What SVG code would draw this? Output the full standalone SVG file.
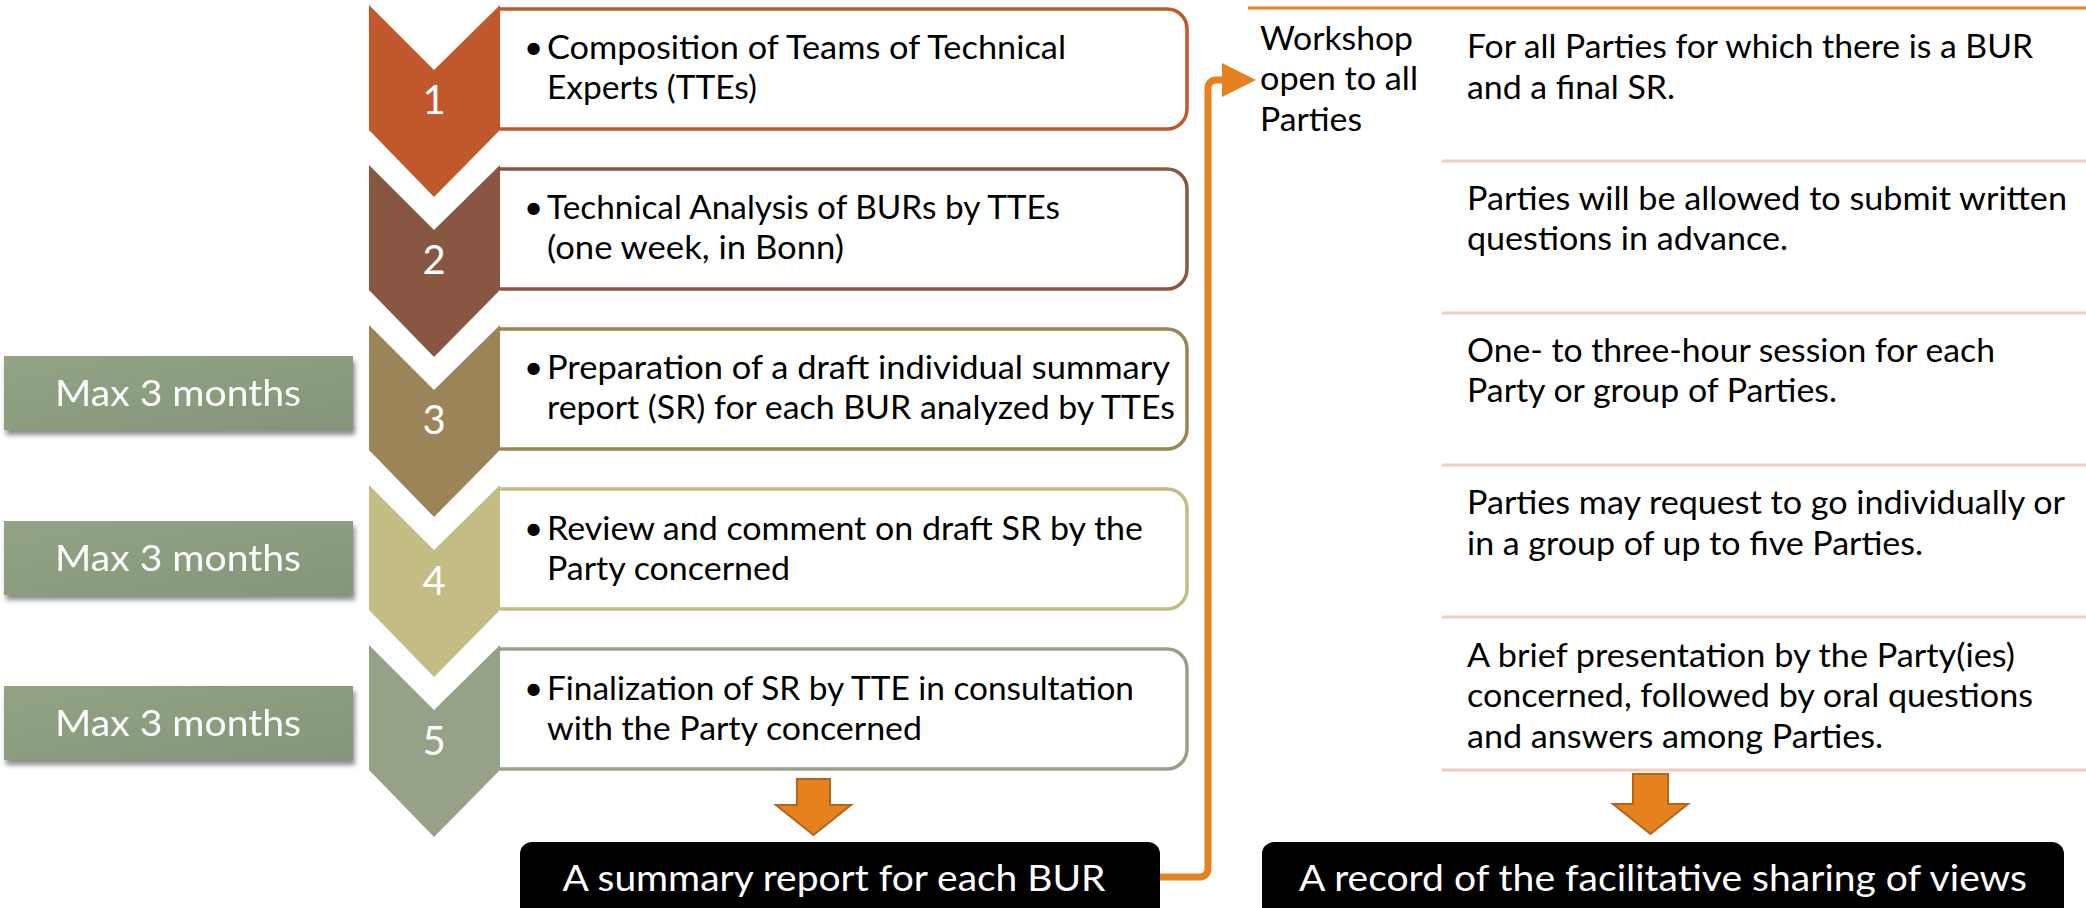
<svg xmlns="http://www.w3.org/2000/svg" width="2086" height="908" viewBox="0 0 2086 908">
<defs>
<linearGradient id="gMax" x1="0" y1="0" x2="1" y2="1">
<stop offset="0" stop-color="#93a384"/>
<stop offset="1" stop-color="#85957a"/>
</linearGradient>
<filter id="sh" x="-5%" y="-20%" width="110%" height="150%">
<feDropShadow dx="2" dy="5" stdDeviation="2.5" flood-color="#000" flood-opacity="0.45"/>
</filter>
</defs>
<style>
.t{font-family:Lato,"Open Sans","Liberation Sans",sans-serif;font-size:33px;fill:#000}
.num{font-family:Lato,"Open Sans","Liberation Sans",sans-serif;font-size:40px;fill:#fff;text-anchor:middle}
.max{font-family:Lato,"Open Sans","Liberation Sans",sans-serif;font-size:37px;fill:#fff;text-anchor:middle}
.blk{font-family:Lato,"Open Sans","Liberation Sans",sans-serif;font-size:37px;fill:#fff;text-anchor:middle}
.box{fill:#fff;stroke-width:3.5}
.sep{stroke:#f2cdbd;stroke-width:3;fill:none}
.or{fill:#e6821e;stroke:#b5641a;stroke-width:2}
</style>

<g id="max1" filter="url(#sh)"><rect x="4" y="356" width="349" height="74" fill="url(#gMax)"/><text class="max" x="178" y="406" textLength="246" lengthAdjust="spacingAndGlyphs">Max 3 months</text></g>
<g id="max2" filter="url(#sh)"><rect x="4" y="521" width="349" height="74" fill="url(#gMax)"/><text class="max" x="178" y="571" textLength="246" lengthAdjust="spacingAndGlyphs">Max 3 months</text></g>
<g id="max3" filter="url(#sh)"><rect x="4" y="686" width="349" height="74" fill="url(#gMax)"/><text class="max" x="178" y="736" textLength="246" lengthAdjust="spacingAndGlyphs">Max 3 months</text></g>

<g id="step1">
<path class="box" stroke="#c0582b" d="M500,9 H1167 a20,20 0 0 1 20,20 V109 a20,20 0 0 1 -20,20 H500"/>
<polygon fill="#c0582b" points="369,5 434,70 500,5 500,130 434,197 369,130"/>
<text class="num" x="434" y="114">1</text>
<text class="t" x="524" y="59">•</text>
<text class="t" x="547" y="59" textLength="519" lengthAdjust="spacingAndGlyphs">Composition of Teams of Technical</text>
<text class="t" x="547" y="99" textLength="210" lengthAdjust="spacingAndGlyphs">Experts (TTEs)</text>
</g>
<g id="step2">
<path class="box" stroke="#875741" d="M500,169 H1167 a20,20 0 0 1 20,20 V269 a20,20 0 0 1 -20,20 H500"/>
<polygon fill="#875741" points="369,165 434,230 500,165 500,290 434,357 369,290"/>
<text class="num" x="434" y="274">2</text>
<text class="t" x="524" y="219">•</text>
<text class="t" x="547" y="219" textLength="513" lengthAdjust="spacingAndGlyphs">Technical Analysis of BURs by TTEs</text>
<text class="t" x="547" y="259" textLength="297" lengthAdjust="spacingAndGlyphs">(one week, in Bonn)</text>
</g>
<g id="step3">
<path class="box" stroke="#9b8457" d="M500,329 H1167 a20,20 0 0 1 20,20 V429 a20,20 0 0 1 -20,20 H500"/>
<polygon fill="#9b8457" points="369,325 434,390 500,325 500,450 434,517 369,450"/>
<text class="num" x="434" y="434">3</text>
<text class="t" x="524" y="379">•</text>
<text class="t" x="547" y="379" textLength="623" lengthAdjust="spacingAndGlyphs">Preparation of a draft individual summary</text>
<text class="t" x="547" y="419" textLength="628" lengthAdjust="spacingAndGlyphs">report (SR) for each BUR analyzed by TTEs</text>
</g>
<g id="step4">
<path class="box" stroke="#c3bc84" d="M500,489 H1167 a20,20 0 0 1 20,20 V589 a20,20 0 0 1 -20,20 H500"/>
<polygon fill="#c3bc84" points="369,485 434,550 500,485 500,610 434,677 369,610"/>
<text class="num" x="434" y="595">4</text>
<text class="t" x="524" y="540">•</text>
<text class="t" x="547" y="540" textLength="596" lengthAdjust="spacingAndGlyphs">Review and comment on draft SR by the</text>
<text class="t" x="547" y="580" textLength="243" lengthAdjust="spacingAndGlyphs">Party concerned</text>
</g>
<g id="step5">
<path class="box" stroke="#95a288" d="M500,649 H1167 a20,20 0 0 1 20,20 V749 a20,20 0 0 1 -20,20 H500"/>
<polygon fill="#95a288" points="369,645 434,710 500,645 500,770 434,837 369,770"/>
<text class="num" x="434" y="755">5</text>
<text class="t" x="524" y="700">•</text>
<text class="t" x="547" y="700" textLength="587" lengthAdjust="spacingAndGlyphs">Finalization of SR by TTE in consultation</text>
<text class="t" x="547" y="740" textLength="375" lengthAdjust="spacingAndGlyphs">with the Party concerned</text>
</g>

<g id="summary">
<rect x="520" y="842" width="640" height="80" rx="12" fill="#000"/>
<text class="blk" x="834" y="891" textLength="543" lengthAdjust="spacingAndGlyphs">A summary report for each BUR</text>
</g>
<g id="record">
<rect x="1262" y="842" width="802" height="80" rx="12" fill="#000"/>
<text class="blk" x="1663" y="891" textLength="728" lengthAdjust="spacingAndGlyphs">A record of the facilitative sharing of views</text>
</g>

<g id="workshop">
<line x1="1248" y1="8" x2="2086" y2="8" stroke="#e6821e" stroke-width="3"/>
<text class="t" x="1260" y="50" textLength="153" lengthAdjust="spacingAndGlyphs">Workshop</text>
<text class="t" x="1260" y="90" textLength="158" lengthAdjust="spacingAndGlyphs">open to all</text>
<text class="t" x="1260" y="131" textLength="102" lengthAdjust="spacingAndGlyphs">Parties</text>
</g>
<g id="details">
<text class="t" x="1467" y="58" textLength="566" lengthAdjust="spacingAndGlyphs">For all Parties for which there is a BUR</text>
<text class="t" x="1467" y="99" textLength="208" lengthAdjust="spacingAndGlyphs">and a final SR.</text>
<line class="sep" x1="1442" y1="161" x2="2086" y2="161"/>
<text class="t" x="1467" y="210" textLength="600" lengthAdjust="spacingAndGlyphs">Parties will be allowed to submit written</text>
<text class="t" x="1467" y="250" textLength="321" lengthAdjust="spacingAndGlyphs">questions in advance.</text>
<line class="sep" x1="1442" y1="313" x2="2086" y2="313"/>
<text class="t" x="1467" y="362" textLength="528" lengthAdjust="spacingAndGlyphs">One- to three-hour session for each</text>
<text class="t" x="1467" y="402" textLength="370" lengthAdjust="spacingAndGlyphs">Party or group of Parties.</text>
<line class="sep" x1="1442" y1="465" x2="2086" y2="465"/>
<text class="t" x="1467" y="514" textLength="598" lengthAdjust="spacingAndGlyphs">Parties may request to go individually or</text>
<text class="t" x="1467" y="555" textLength="456" lengthAdjust="spacingAndGlyphs">in a group of up to five Parties.</text>
<line class="sep" x1="1442" y1="617" x2="2086" y2="617"/>
<text class="t" x="1467" y="667" textLength="548" lengthAdjust="spacingAndGlyphs">A brief presentation by the Party(ies)</text>
<text class="t" x="1467" y="707" textLength="566" lengthAdjust="spacingAndGlyphs">concerned, followed by oral questions</text>
<text class="t" x="1467" y="748" textLength="416" lengthAdjust="spacingAndGlyphs">and answers among Parties.</text>
<line class="sep" x1="1442" y1="770" x2="2086" y2="770"/>
</g>

<g id="connectors">
<polygon class="or" points="797,779 830,779 830,805 851,805 813.5,835 776,805 797,805"/>
<polygon class="or" points="1633,774 1668,774 1668,804 1688,804 1650.5,834 1613,804 1633,804"/>
<path d="M1160,877 H1200 a8,8 0 0 0 8,-8 V88 a8,8 0 0 1 8,-8 H1226" fill="none" stroke="#e6821e" stroke-width="7"/>
<polygon fill="#e6821e" points="1222,63 1256,80 1222,97"/>
</g>
</svg>
